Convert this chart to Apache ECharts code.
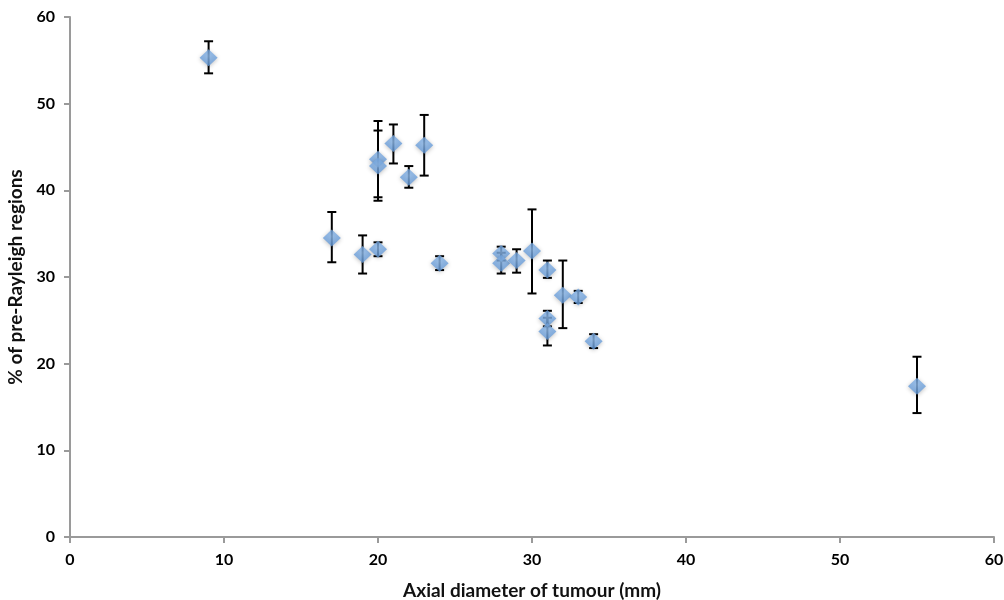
<!DOCTYPE html>
<html>
<head>
<meta charset="utf-8">
<script src="https://cdn.jsdelivr.net/npm/echarts@6/dist/echarts.min.js"></script>
<style>html,body{margin:0;padding:0;background:#fff}#c{width:1004px;height:600px}</style>
</head>
<body>
<div id="c"></div>
<script>
var xVals  = [9,    17,   19,   20,   20,   20,   21,   22,   23,   24,   28,   28,   29,   30,   31,   31,   31,   32,   33,   34,   55];
var yVals  = [55.3, 34.5, 32.6, 33.2, 43.6, 42.8, 45.4, 41.5, 45.2, 31.6, 32.7, 31.6, 31.9, 33.0, 30.8, 25.2, 23.7, 27.9, 27.7, 22.6, 17.4];
var yHigh  = [57.2, 37.5, 34.8, 34.0, 48.0, 46.9, 47.6, 42.8, 48.7, 32.4, 33.5, 32.8, 33.2, 37.8, 31.9, 26.1, 25.3, 31.9, 28.4, 23.4, 20.8];
var yLow   = [53.5, 31.7, 30.4, 32.4, 39.2, 38.8, 43.1, 40.3, 41.7, 30.8, 31.9, 30.4, 30.5, 28.1, 29.9, 24.3, 22.1, 24.1, 27.0, 21.8, 14.3];
var xTicks = [0, 10, 20, 30, 40, 50, 60];
var yTicks = [0, 10, 20, 30, 40, 50, 60];
var xTitle = 'Axial diameter of tumour (mm)';
var yTitle = '% of pre-Rayleigh regions';

var pts = xVals.map(function (x, i) { return [x, yVals[i]]; });
var errs = xVals.map(function (x, i) { return [x, yLow[i], yHigh[i]]; });

var font = 'Lato, "Open Sans", sans-serif';
var chart = echarts.init(document.getElementById('c'));
chart.setOption({
  animation: false,
  backgroundColor: '#ffffff',
  grid: { left: 70, right: 10, top: 17, bottom: 63, containLabel: false, outerBoundsMode: 'none' },
  xAxis: {
    type: 'value', min: xTicks[0], max: xTicks[xTicks.length - 1], interval: 10,
    name: xTitle, nameLocation: 'middle', nameGap: 44,
    nameTextStyle: { fontFamily: font, fontWeight: 'bold', fontSize: 19, color: '#111' },
    axisLine: { show: true, lineStyle: { color: '#9a9a9a', width: 2 } },
    axisTick: { show: true, length: 6, lineStyle: { color: '#9a9a9a', width: 2 } },
    axisLabel: { fontFamily: font, fontWeight: 'bold', fontSize: 16, color: '#000', margin: 15 },
    splitLine: { show: false }
  },
  yAxis: {
    type: 'value', min: yTicks[0], max: yTicks[yTicks.length - 1], interval: 10,
    name: yTitle, nameLocation: 'middle', nameGap: 43, nameRotate: 90,
    nameTextStyle: { fontFamily: font, fontWeight: 'bold', fontSize: 19, color: '#111' },
    axisLine: { show: true, lineStyle: { color: '#9a9a9a', width: 2 } },
    axisTick: { show: true, length: 6, lineStyle: { color: '#9a9a9a', width: 2 } },
    axisLabel: { fontFamily: font, fontWeight: 'bold', fontSize: 16, color: '#000', margin: 15 },
    splitLine: { show: false }
  },
  series: [
    {
      type: 'custom',
      z: 2,
      data: errs,
      renderItem: function (params, api) {
        var x = api.value(0);
        var lo = api.coord([x, api.value(1)]);
        var hi = api.coord([x, api.value(2)]);
        var hw = 4.5;
        var st = { stroke: '#000', lineWidth: 2 };
        return {
          type: 'group',
          children: [
            { type: 'line', shape: { x1: lo[0], y1: lo[1], x2: hi[0], y2: hi[1] }, style: st },
            { type: 'line', shape: { x1: hi[0] - hw, y1: hi[1], x2: hi[0] + hw, y2: hi[1] }, style: st },
            { type: 'line', shape: { x1: lo[0] - hw, y1: lo[1], x2: lo[0] + hw, y2: lo[1] }, style: st }
          ]
        };
      }
    },
    {
      type: 'scatter',
      z: 3,
      data: pts,
      symbol: 'diamond',
      symbolSize: [18, 17],
      itemStyle: {
        color: new echarts.graphic.RadialGradient(0.5, 0.4, 0.6, [
          { offset: 0, color: '#8fbbec' },
          { offset: 1, color: '#5e95d6' }
        ]),
        shadowBlur: 4,
        shadowColor: 'rgba(0,0,0,0.3)',
        shadowOffsetY: 1
      }
    }
  ]
});
</script>
</body>
</html>
